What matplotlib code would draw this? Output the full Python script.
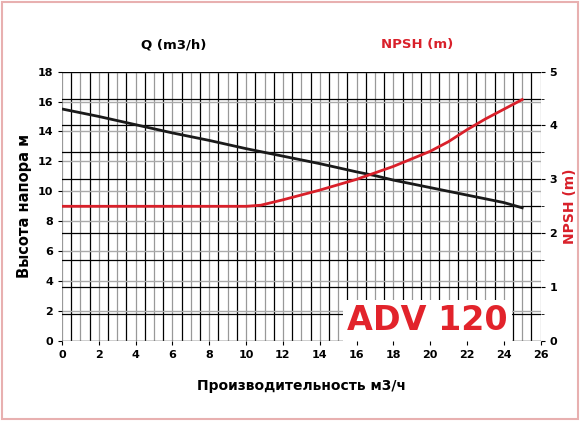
import numpy as np
import matplotlib.pyplot as plt
from matplotlib.patches import Rectangle

flow = [0, 2, 4, 6, 8, 10, 12, 14, 16, 17, 18, 20, 22, 24, 25]
head = [15.5, 15.0, 14.45, 13.9, 13.4, 12.85, 12.35, 11.85, 11.3, 11.05, 10.75, 10.25, 9.75, 9.25, 8.9]
npsh_flow = [0, 4, 8, 10, 10.8, 12, 14, 16, 18, 20, 21, 22, 23, 24, 25]
npsh = [2.5, 2.5, 2.5, 2.5, 2.52, 2.62, 2.8, 3.0, 3.24, 3.52, 3.7, 3.92, 4.12, 4.3, 4.48]

fig = plt.figure(figsize=(5.8, 4.21), dpi=100)
fig.patches.append(Rectangle((0.003, 0.004), 0.994, 0.992, transform=fig.transFigure,
                             fill=False, edgecolor='#e8b0b0', linewidth=1.5))
ax = fig.add_axes([0.107, 0.19, 0.825, 0.64])
ax.set_xlim(0, 26)
ax.set_ylim(0, 18)

for i, x in enumerate(np.arange(0, 26.01, 0.5)):
    ax.axvline(x, color='black' if i % 2 else '#999999', lw=0.9, zorder=0)
for y in np.arange(0, 18.01, 2):
    ax.axhline(y, color='#aaaaaa', lw=1.0, zorder=0)
for y in np.arange(0, 5.01, 0.5):
    ax.axhline(y * 18 / 5, color='black', lw=0.9, zorder=0)

ax.plot(flow, head, color='#1a1a1a', lw=2)
ax2 = ax.twinx()
ax2.set_ylim(0, 5)
ax2.plot(npsh_flow, npsh, color='#d9202a', lw=2)

ax.set_xticks(range(0, 27, 2))
ax.set_yticks(range(0, 19, 2))
ax2.set_yticks(range(0, 6))
ax2.set_yticks(np.arange(0, 5.01, 0.5), minor=True)
for a in (ax, ax2):
    a.tick_params(labelsize=8, length=3)
    for lab in a.get_xticklabels() + a.get_yticklabels():
        lab.set_fontweight('bold')
    for s in a.spines.values():
        s.set_visible(False)

ax.set_ylabel('Высота напора м', fontsize=10.5, fontweight='bold')
ax2.set_ylabel('NPSH (m)', fontsize=10, fontweight='bold', color='#d9202a')
ax.set_xlabel('Производительность м3/ч', fontsize=10, fontweight='bold', labelpad=14)
fig.text(0.3, 0.885, 'Q (m3/h)', fontsize=9.5, fontweight='bold', ha='center')
fig.text(0.72, 0.885, 'NPSH (m)', fontsize=9.5, fontweight='bold', ha='center', color='#d9202a')
ax2.text(15.5, 0.2, 'ADV 120', fontsize=24, fontweight='bold', color='#e2232b',
         bbox=dict(facecolor='white', edgecolor='none', pad=3))

fig.savefig('out.png', dpi=100)
